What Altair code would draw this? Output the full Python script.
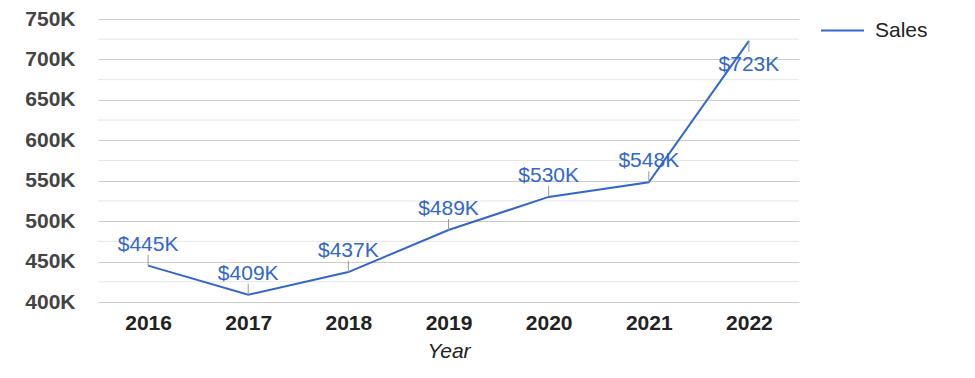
import altair as alt
import pandas as pd

years = ["2016", "2017", "2018", "2019", "2020", "2021", "2022"]
sales = [445000, 409000, 437000, 489000, 530000, 548000, 723000]
series_name = "Sales"
major_ticks = list(range(400000, 750001, 50000))
minor_ticks = list(range(425000, 750000, 50000))

df = pd.DataFrame({"Year": years, "Sales": sales, "Series": [series_name] * len(years)})
minor_df = pd.DataFrame({"v": minor_ticks})

FONT = "Arial, Liberation Sans, sans-serif"
BLUE = "#3366CC"
FS = 21

x_enc = alt.X(
    "Year:O",
    scale=alt.Scale(type="point", padding=0.5),
    axis=alt.Axis(
        title="Year", labelAngle=0, labelFontWeight="bold", labelFontSize=FS,
        labelColor="#222222", labelPadding=10, domain=False, ticks=False, grid=False,
        titleFontStyle="italic", titleFontWeight="normal", titleFontSize=FS,
        titleColor="#222222", titlePadding=7, labelFont=FONT, titleFont=FONT,
    ),
)
y_scale = alt.Scale(domain=[400000, 750000], nice=False, zero=False)
y_axis = alt.Axis(
    title=None, values=major_ticks,
    labelExpr="(datum.value/1000) + 'K'",
    labelFontWeight="bold", labelFontSize=FS, labelColor="#444444", labelFont=FONT,
    labelPadding=23, domain=False, ticks=False,
    gridColor="#cccccc", gridWidth=1,
)

minor = alt.Chart(minor_df).mark_rule(color="#e6e6e6", strokeWidth=1).encode(
    y=alt.Y("v:Q", scale=y_scale, axis=y_axis)
)

base = alt.Chart(df).transform_calculate(
    label="'$' + round(datum.Sales/1000) + 'K'"
)

line = base.mark_line(strokeWidth=2).encode(
    x=x_enc, y=alt.Y("Sales:Q", scale=y_scale, axis=y_axis),
    color=alt.Color(
        "Series:N", scale=alt.Scale(range=[BLUE]),
        legend=alt.Legend(
            title=None, orient="none", legendX=722, legendY=-11,
            symbolType="stroke", symbolSize=1849, symbolStrokeWidth=2,
            labelFontSize=FS, labelFont=FONT, labelColor="#222222", labelOffset=10,
        ),
    ),
)

above = base.transform_filter("datum.Sales <= 700000")
below = base.transform_filter("datum.Sales > 700000")

stem_up = above.mark_rule(color="#999999", strokeWidth=1, y2Offset=-11).encode(
    x="Year:O", y="Sales:Q", y2="Sales:Q"
)
stem_down = below.mark_rule(color="#999999", strokeWidth=1, y2Offset=11).encode(
    x="Year:O", y="Sales:Q", y2="Sales:Q"
)
text_up = above.mark_text(dy=-15, baseline="alphabetic", fontSize=FS, font=FONT, color=BLUE).encode(
    x="Year:O", y="Sales:Q", text="label:N"
)
text_down = below.mark_text(dy=30, baseline="alphabetic", fontSize=FS, font=FONT, color=BLUE).encode(
    x="Year:O", y="Sales:Q", text="label:N"
)

chart = alt.layer(minor, line, stem_up, stem_down, text_up, text_down).properties(
    width=701, height=283,
    autosize=alt.AutoSizeParams(type="none"),
    padding={"left": 90, "top": 11, "right": 150, "bottom": 60},
).configure(
    background="white",
    view=alt.ViewConfig(stroke="transparent", strokeWidth=0),
)

chart.save("out.html", embed_options={"renderer": "svg", "actions": False})
